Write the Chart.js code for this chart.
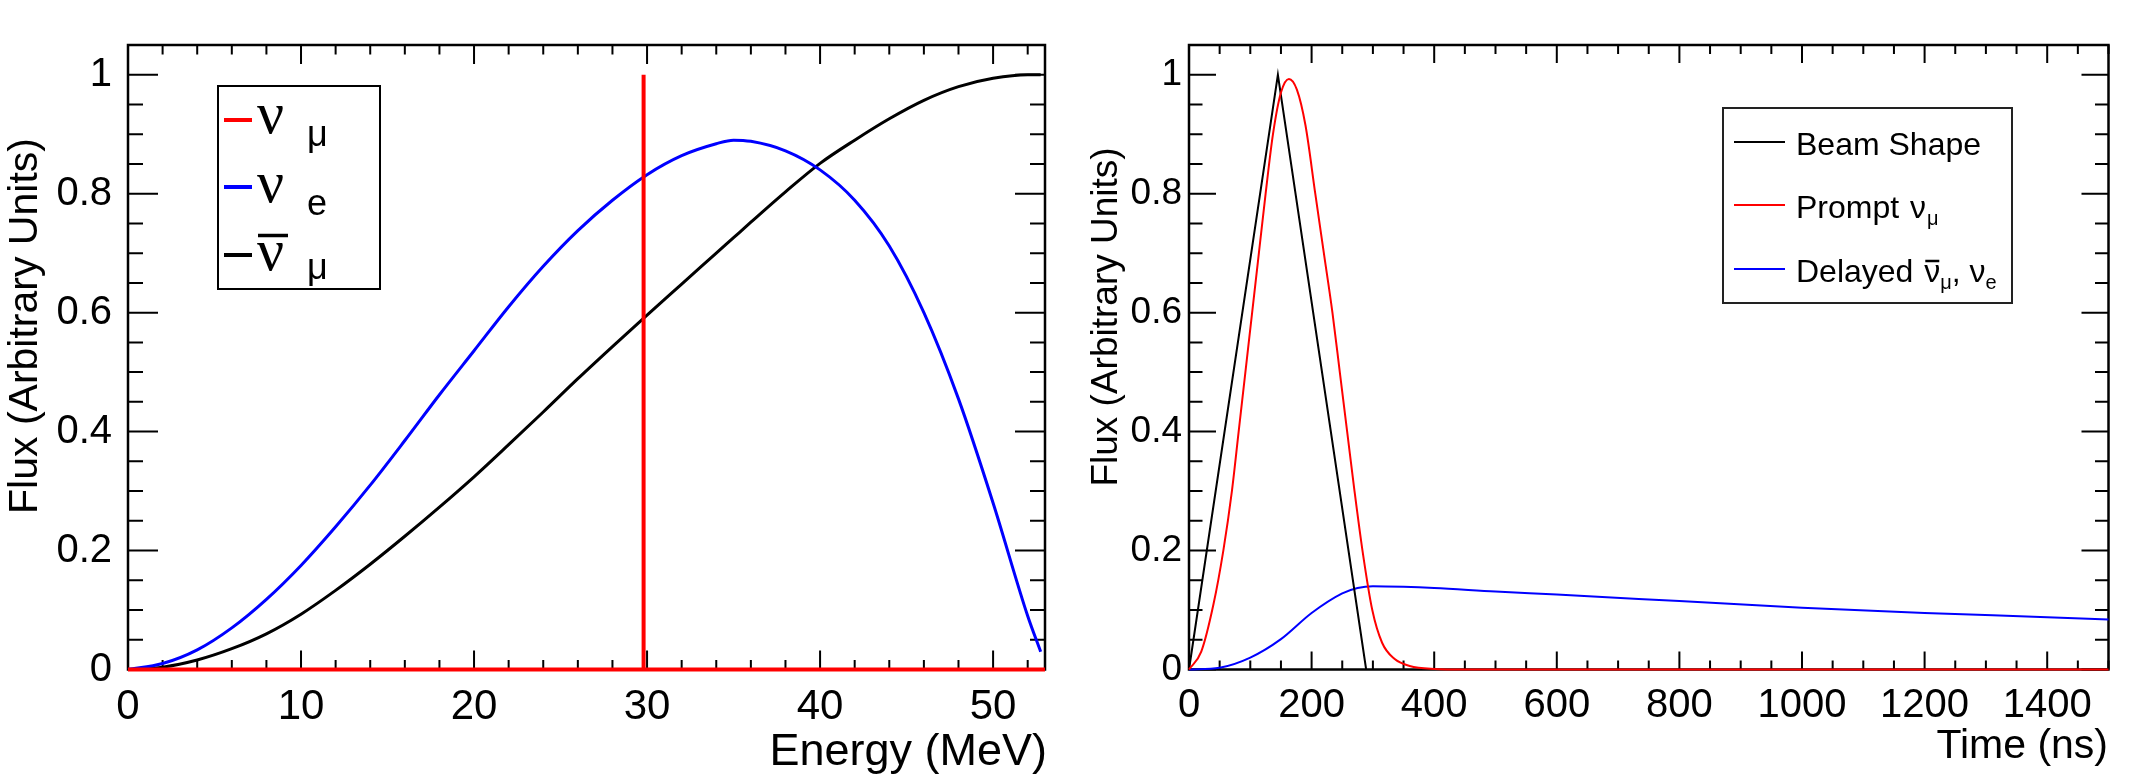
<!DOCTYPE html>
<html>
<head>
<meta charset="utf-8">
<script src="https://cdn.jsdelivr.net/npm/chart.js@4.4.0/dist/chart.umd.min.js"></script>
<style>
  html, body { margin: 0; padding: 0; background: #fff; }
  #wrap { position: relative; width: 2139px; height: 783px; overflow: hidden; }
  .panel { position: absolute; top: 0; height: 783px; }
</style>
</head>
<body>
<div id="wrap">
  <div class="panel" style="left:0;width:1070px"><canvas id="energyChart" width="1070" height="783"></canvas></div>
  <div class="panel" style="left:1070px;width:1069px"><canvas id="timeChart" width="1069" height="783"></canvas></div>
</div>
<script>
// ---- left panel: energy spectra ----
const energyMeV   = [0, 2, 4, 6, 8, 10, 12, 14, 16, 18, 20, 22, 24, 26, 28, 30, 32, 34, 35, 36, 38, 40, 42, 44, 46, 48, 50, 52, 52.75];
const nuEFlux     = [0, 0.010, 0.033, 0.070, 0.118, 0.175, 0.240, 0.310, 0.385, 0.462, 0.536, 0.610, 0.678, 0.738, 0.789, 0.832, 0.864, 0.884, 0.890, 0.888, 0.872, 0.840, 0.789, 0.712, 0.600, 0.455, 0.280, 0.090, 0.030];
const nuMuBarFlux = [0, 0.004, 0.016, 0.035, 0.060, 0.093, 0.133, 0.177, 0.224, 0.273, 0.324, 0.378, 0.433, 0.489, 0.543, 0.596, 0.648, 0.700, 0.726, 0.752, 0.803, 0.851, 0.890, 0.926, 0.957, 0.980, 0.994, 1.000, 1.000];
const nuMuEnergy  = [0, 29.8, 29.8, 29.8, 53];
const nuMuFlux    = [0, 0, 1, 0, 0];
const energyTicks = [0, 10, 20, 30, 40, 50];

// ---- right panel: timing ----
const beamTimeNs    = [0, 145, 289];
const beamShape     = [0, 1, 0];
const promptTimeNs  = [0, 20, 40, 56, 70, 81, 92, 103, 114, 125, 137, 150, 163, 176, 190, 206, 220, 234, 246, 258, 270, 283, 299, 315, 335, 360, 400, 450, 1500];
const promptFlux    = [0, 0.03, 0.11, 0.2, 0.3, 0.4, 0.5, 0.6, 0.7, 0.8, 0.9, 0.97, 0.993, 0.975, 0.915, 0.8, 0.7, 0.6, 0.5, 0.4, 0.3, 0.2, 0.1, 0.045, 0.018, 0.006, 0.001, 0, 0];
const delayedTimeNs = [0, 50, 100, 150, 200, 250, 275, 300, 350, 400, 500, 600, 800, 1000, 1200, 1400, 1500];
const delayedFlux   = [0, 0.003, 0.02, 0.051, 0.095, 0.128, 0.137, 0.140, 0.139, 0.137, 0.131, 0.126, 0.115, 0.104, 0.095, 0.088, 0.084];
const timeTicks     = [0, 200, 400, 600, 800, 1000, 1200, 1400];

const fluxTicks = [0, 0.2, 0.4, 0.6, 0.8, 1];

function pts(xs, ys) {
    return xs.map((x, i) => ({ x: x, y: ys[i] }));
}

function line(color, xs, ys, width, smooth) {
    return {
        data: pts(xs, ys),
        borderColor: color,
        borderWidth: width,
        pointRadius: 0,
        showLine: true,
        fill: false,
        clip: 4,
        tension: 0,
        cubicInterpolationMode: smooth ? 'monotone' : 'default'
    };
}

// ROOT-like frame: box plus inward major/minor ticks on every side
function rootFrame(cfg) {
    return {
        id: 'rootFrame',
        beforeDatasetsDraw(chart) {
            const { ctx, chartArea: a, scales: { x, y } } = chart;
            ctx.save();
            ctx.strokeStyle = '#000';
            ctx.lineWidth = 2;
            ctx.beginPath();
            const xMinor = cfg.xMinor, yMinor = cfg.yMinor;
            for (let i = 0; i * xMinor <= x.max + 1e-9; i++) {
                const v = i * xMinor;
                const px = x.getPixelForValue(v);
                const major = Math.abs(v / cfg.xMajor - Math.round(v / cfg.xMajor)) < 1e-6;
                const len = major ? cfg.xLen : cfg.xLen / 2;
                ctx.moveTo(px, a.bottom); ctx.lineTo(px, a.bottom - len);
                ctx.moveTo(px, a.top); ctx.lineTo(px, a.top + len);
            }
            for (let i = 0; i * yMinor <= y.max + 1e-9; i++) {
                const v = i * yMinor;
                const py = y.getPixelForValue(v);
                const major = Math.abs(v / cfg.yMajor - Math.round(v / cfg.yMajor)) < 1e-6;
                const len = major ? cfg.yLen : cfg.yLen / 2;
                ctx.moveTo(a.left, py); ctx.lineTo(a.left + len, py);
                ctx.moveTo(a.right, py); ctx.lineTo(a.right - len, py);
            }
            ctx.stroke();
            ctx.lineWidth = 2.5;
            ctx.strokeRect(a.left, a.top, a.right - a.left, a.bottom - a.top);
            ctx.restore();
        },
        afterDraw(chart) {
            const ctx = chart.ctx;
            const ox = cfg.offsetX;
            ctx.save();
            ctx.fillStyle = '#000';
            // y title
            ctx.save();
            ctx.translate(cfg.yTitle.x - ox, cfg.yTitle.y);
            ctx.rotate(-Math.PI / 2);
            ctx.font = cfg.yTitle.font;
            ctx.textAlign = 'center';
            ctx.textBaseline = 'middle';
            ctx.fillText(cfg.yTitle.text, 0, 0);
            ctx.restore();
            // x title, right aligned
            ctx.font = cfg.xTitle.font;
            ctx.textAlign = 'right';
            ctx.textBaseline = 'alphabetic';
            ctx.fillText(cfg.xTitle.text, cfg.xTitle.x - ox, cfg.xTitle.y);
            ctx.restore();
            cfg.legend(ctx, ox);
        }
    };
}

function drawRuns(ctx, x, baseline, runs) {
    ctx.textAlign = 'left';
    ctx.textBaseline = 'alphabetic';
    for (const r of runs) {
        ctx.font = r.font;
        const w = ctx.measureText(r.text).width;
        ctx.fillText(r.text, x, baseline + (r.dy || 0));
        if (r.bar) {
            ctx.save();
            ctx.lineWidth = r.bar.w;
            ctx.beginPath();
            ctx.moveTo(x + 1, baseline + r.bar.dy);
            ctx.lineTo(x + w - 1, baseline + r.bar.dy);
            ctx.stroke();
            ctx.restore();
        }
        x += w + (r.gap || 0);
    }
}

function energyLegend(ctx, ox) {
    ctx.save();
    ctx.fillStyle = '#fff';
    ctx.fillRect(218 - ox, 86, 162, 203);
    ctx.strokeStyle = '#000';
    ctx.lineWidth = 2;
    ctx.strokeRect(218 - ox, 86, 162, 203);
    const rows = [
        { color: '#ff0000', y: 120, base: 133, sub: 'μ', subBase: 146, bar: false },
        { color: '#0000ff', y: 187, base: 202, sub: 'e', subBase: 215, bar: false },
        { color: '#000000', y: 255, base: 270, sub: 'μ', subBase: 279, bar: true }
    ];
    for (const r of rows) {
        ctx.strokeStyle = r.color;
        ctx.lineWidth = 4;
        ctx.beginPath();
        ctx.moveTo(224 - ox, r.y); ctx.lineTo(252 - ox, r.y);
        ctx.stroke();
        ctx.fillStyle = '#000';
        ctx.strokeStyle = '#000';
        ctx.font = '60px "Liberation Serif"';
        ctx.textAlign = 'left';
        ctx.textBaseline = 'alphabetic';
        ctx.fillText('ν', 257 - ox, r.base);
        if (r.bar) {
            ctx.lineWidth = 3.5;
            ctx.beginPath();
            ctx.moveTo(258 - ox, 235.5); ctx.lineTo(288 - ox, 235.5);
            ctx.stroke();
        }
        ctx.font = '36px "Liberation Sans"';
        ctx.fillText(r.sub, 307 - ox, r.subBase);
    }
    ctx.restore();
}

function timeLegend(ctx, ox) {
    ctx.save();
    ctx.fillStyle = '#fff';
    ctx.fillRect(1723 - ox, 108, 289, 195);
    ctx.strokeStyle = '#222';
    ctx.lineWidth = 2;
    ctx.strokeRect(1723 - ox, 108, 289, 195);
    const samples = [['#000000', 142], ['#ff0000', 205], ['#0000ff', 269]];
    for (const s of samples) {
        ctx.strokeStyle = s[0];
        ctx.lineWidth = 2;
        ctx.beginPath();
        ctx.moveTo(1734 - ox, s[1]); ctx.lineTo(1785 - ox, s[1]);
        ctx.stroke();
    }
    ctx.fillStyle = '#000';
    ctx.strokeStyle = '#000';
    const big = '32px "Liberation Sans"', small = '20px "Liberation Sans"';
    drawRuns(ctx, 1796 - ox, 155, [{ text: 'Beam Shape', font: big }]);
    drawRuns(ctx, 1796 - ox, 218, [
        { text: 'Prompt ', font: big, gap: 2 },
        { text: 'ν', font: big, gap: 1 },
        { text: 'μ', font: small, dy: 7 }
    ]);
    drawRuns(ctx, 1796 - ox, 282, [
        { text: 'Delayed ', font: big, gap: 2 },
        { text: 'ν', font: big, bar: { dy: -21, w: 2.5 } },
        { text: 'μ', font: small, dy: 7 },
        { text: ', ', font: big },
        { text: 'ν', font: big },
        { text: 'e', font: small, dy: 7 }
    ]);
    ctx.restore();
}

function axes(xMax, xTicks, yWidth, xLabelPad, yLabelPad, xFont, yFont) {
    return {
        x: {
            type: 'linear', min: 0, max: xMax,
            grid: { display: false, drawTicks: false },
            border: { display: false },
            afterBuildTicks: s => { s.ticks = xTicks.map(v => ({ value: v })); },
            afterFit: s => { s.height = 113.5; },
            ticks: {
                autoSkip: false, maxRotation: 0, padding: xLabelPad,
                color: '#000', font: xFont,
                callback: v => String(v)
            }
        },
        y: {
            type: 'linear', min: 0, max: 1.05,
            grid: { display: false, drawTicks: false },
            border: { display: false },
            afterBuildTicks: s => { s.ticks = fluxTicks.map(v => ({ value: v })); },
            afterFit: s => { s.width = yWidth; },
            ticks: {
                padding: yLabelPad, color: '#000', font: yFont,
                callback: v => String(Math.round(v * 10) / 10)
            }
        }
    };
}

const baseOptions = {
    responsive: false,
    animation: false,
    events: [],
    plugins: { legend: { display: false }, tooltip: { enabled: false }, title: { display: false } }
};

new Chart(document.getElementById('energyChart'), {
    type: 'scatter',
    data: {
        datasets: [
            line('#ff0000', nuMuEnergy, nuMuFlux, 4, false),
            line('#0000ff', energyMeV, nuEFlux, 3, true),
            line('#000000', energyMeV, nuMuBarFlux, 3, true)
        ]
    },
    options: Object.assign({}, baseOptions, {
        layout: { padding: { left: 0, right: 25, top: 45, bottom: 0 } },
        scales: axes(53, energyTicks, 128, 13, 16,
            { family: '"Liberation Sans"', size: 42 }, { family: '"Liberation Sans"', size: 40 })
    }),
    plugins: [rootFrame({
        offsetX: 0, xMinor: 2, xMajor: 10, yMinor: 0.05, yMajor: 0.2, xLen: 19, yLen: 30,
        yTitle: { text: 'Flux (Arbitrary Units)', x: 26, y: 326, font: '41px "Liberation Sans"' },
        xTitle: { text: 'Energy (MeV)', x: 1047, y: 765, font: '45px "Liberation Sans"' },
        legend: energyLegend
    })]
});

new Chart(document.getElementById('timeChart'), {
    type: 'scatter',
    data: {
        datasets: [
            line('#ff0000', promptTimeNs, promptFlux, 2, true),
            line('#000000', beamTimeNs, beamShape, 2, false),
            line('#0000ff', delayedTimeNs, delayedFlux, 2, true)
        ]
    },
    options: Object.assign({}, baseOptions, {
        layout: { padding: { left: 0, right: 30.5, top: 45, bottom: 0 } },
        scales: axes(1500, timeTicks, 119, 12, 7,
            { family: '"Liberation Sans"', size: 40 }, { family: '"Liberation Sans"', size: 37 })
    }),
    plugins: [rootFrame({
        offsetX: 1070, xMinor: 50, xMajor: 200, yMinor: 0.05, yMajor: 0.2, xLen: 18, yLen: 27,
        yTitle: { text: 'Flux (Arbitrary Units)', x: 1107, y: 317, font: '37px "Liberation Sans"' },
        xTitle: { text: 'Time (ns)', x: 2108, y: 758, font: '41px "Liberation Sans"' },
        legend: timeLegend
    })]
});
</script>
</body>
</html>
